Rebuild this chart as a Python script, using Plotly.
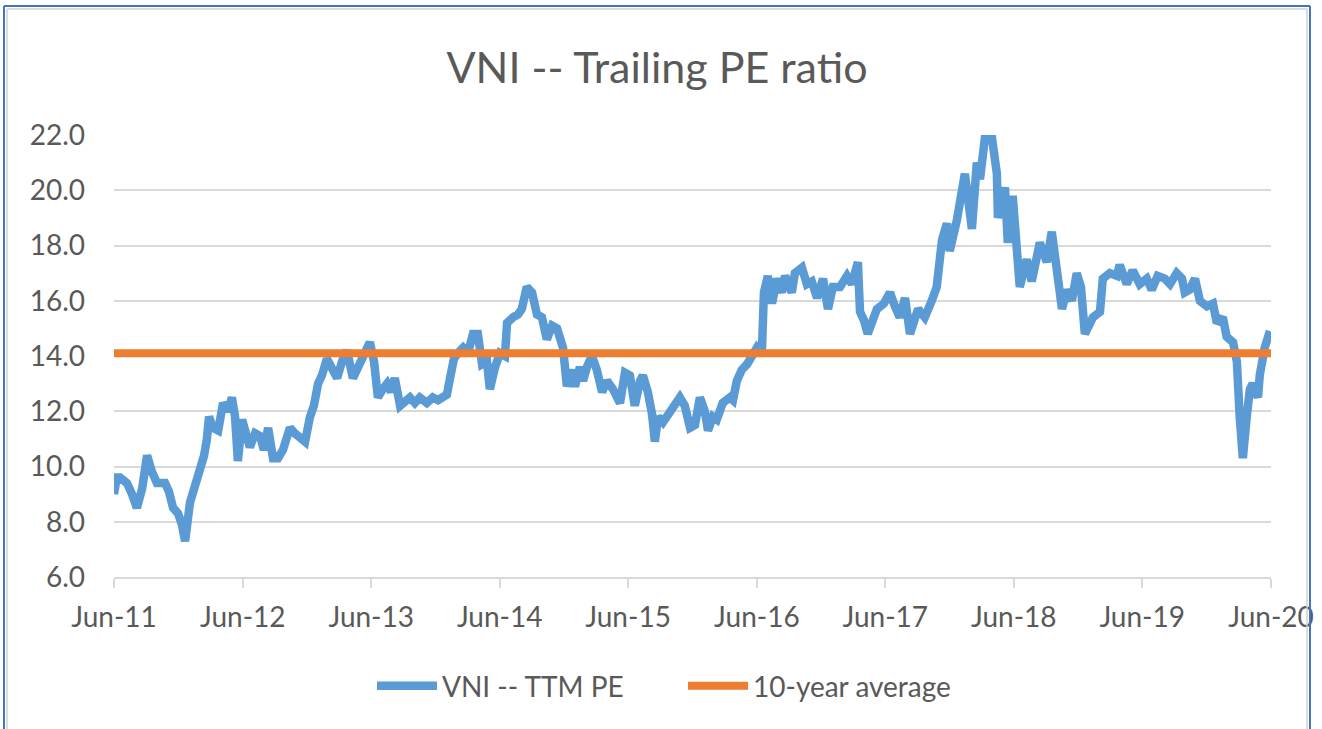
import plotly.graph_objects as go

# ---- data ----
dates = [
    "2011-06-01", "2011-06-09", "2011-06-18", "2011-07-08", "2011-07-22", "2011-08-05", "2011-08-20",
    "2011-09-03", "2011-09-17", "2011-10-01", "2011-10-24", "2011-11-04", "2011-11-16", "2011-11-30",
    "2011-12-11", "2011-12-20", "2012-01-03", "2012-01-17", "2012-01-31", "2012-02-12", "2012-02-20",
    "2012-02-26", "2012-03-08", "2012-03-23", "2012-04-06", "2012-04-20", "2012-05-01", "2012-05-10",
    "2012-05-18", "2012-05-30", "2012-06-10", "2012-06-21", "2012-07-06", "2012-07-20", "2012-07-31",
    "2012-08-12", "2012-08-26", "2012-09-09", "2012-09-23", "2012-10-13", "2012-10-27", "2012-11-10",
    "2012-11-25", "2012-12-09", "2012-12-20", "2013-01-01", "2013-01-12", "2013-01-26", "2013-02-09",
    "2013-02-24", "2013-03-10", "2013-03-24", "2013-04-10", "2013-04-24", "2013-05-08", "2013-05-28",
    "2013-06-09", "2013-06-20", "2013-07-04", "2013-07-16", "2013-07-27", "2013-08-07", "2013-08-22",
    "2013-09-05", "2013-09-19", "2013-10-03", "2013-10-17", "2013-11-06", "2013-11-23", "2013-12-08",
    "2013-12-22", "2014-01-02", "2014-01-11", "2014-01-22", "2014-02-02", "2014-02-17", "2014-03-03",
    "2014-03-17", "2014-03-31", "2014-04-12", "2014-04-26", "2014-05-04", "2014-05-19", "2014-06-02",
    "2014-06-16", "2014-06-22", "2014-07-09", "2014-07-23", "2014-08-03", "2014-08-17", "2014-09-01",
    "2014-09-15", "2014-09-29", "2014-10-13", "2014-10-28", "2014-11-11", "2014-11-28", "2014-12-09",
    "2014-12-23", "2015-01-01", "2015-01-15", "2015-01-24", "2015-02-04", "2015-02-18", "2015-03-04",
    "2015-03-19", "2015-04-02", "2015-04-19", "2015-05-09", "2015-05-23", "2015-06-06", "2015-06-20",
    "2015-07-05", "2015-07-13", "2015-07-27", "2015-08-08", "2015-08-16", "2015-08-25", "2015-09-08",
    "2015-09-28", "2015-10-12", "2015-10-26", "2015-11-09", "2015-11-24", "2015-12-08", "2015-12-22",
    "2016-01-05", "2016-01-14", "2016-01-28", "2016-02-08", "2016-02-25", "2016-03-16", "2016-03-25",
    "2016-04-05", "2016-04-19", "2016-05-04", "2016-05-18", "2016-06-01", "2016-06-15", "2016-06-21",
    "2016-07-02", "2016-07-14", "2016-07-28", "2016-08-11", "2016-08-20", "2016-09-08", "2016-09-17",
    "2016-10-07", "2016-10-21", "2016-11-04", "2016-11-19", "2016-12-06", "2016-12-20", "2017-01-03",
    "2017-01-23", "2017-02-12", "2017-02-26", "2017-03-15", "2017-03-21", "2017-04-01", "2017-04-12",
    "2017-05-08", "2017-05-28", "2017-06-14", "2017-06-28", "2017-07-12", "2017-07-27", "2017-08-10",
    "2017-09-02", "2017-09-21", "2017-10-11", "2017-10-25", "2017-11-09", "2017-11-23", "2017-12-01",
    "2017-12-21", "2018-01-13", "2018-02-02", "2018-02-16", "2018-02-25", "2018-03-11", "2018-03-31",
    "2018-04-14", "2018-04-17", "2018-05-07", "2018-05-15", "2018-05-29", "2018-06-18", "2018-07-08",
    "2018-07-22", "2018-08-14", "2018-09-03", "2018-09-17", "2018-10-01", "2018-10-16", "2018-10-30",
    "2018-11-13", "2018-11-27", "2018-12-09", "2018-12-20", "2019-01-12", "2019-02-01", "2019-02-09",
    "2019-03-01", "2019-03-21", "2019-03-29", "2019-04-18", "2019-05-05", "2019-05-25", "2019-06-14",
    "2019-06-28", "2019-07-15", "2019-08-04", "2019-08-19", "2019-09-07", "2019-09-22", "2019-09-30",
    "2019-10-14", "2019-10-29", "2019-11-12", "2019-12-02", "2019-12-19", "2019-12-30", "2020-01-16",
    "2020-01-27", "2020-02-14", "2020-02-25", "2020-03-04", "2020-03-13", "2020-03-24", "2020-04-02",
    "2020-04-10", "2020-04-25", "2020-04-30", "2020-05-14", "2020-05-29",
]

ttm_pe = [
    9.0, 9.6, 9.6, 9.4, 9.0, 8.5, 9.2,
    10.4, 9.8, 9.4, 9.4, 9.1, 8.5, 8.3,
    7.9, 7.3, 8.7, 9.3, 9.8, 10.4, 11.0,
    11.8, 11.4, 11.3, 12.3, 12.0, 12.5, 11.8,
    10.2, 11.7, 11.2, 10.7, 11.2, 11.1, 10.6,
    11.4, 10.3, 10.3, 10.6, 11.4, 11.2, 11.0,
    10.9, 11.8, 12.2, 13.0, 13.3, 13.9, 13.5,
    13.2, 13.8, 14.2, 13.2, 13.6, 13.9, 14.5,
    13.8, 12.5, 12.8, 13.0, 12.7, 13.2, 12.2,
    12.4, 12.5, 12.3, 12.5, 12.3, 12.5, 12.4,
    12.5, 12.6, 13.2, 13.9, 14.1, 14.3, 14.1,
    14.8, 14.8, 13.7, 13.8, 12.8, 13.6, 14.1,
    14.0, 15.2, 15.4, 15.5, 15.7, 16.5, 16.3,
    15.5, 15.4, 14.6, 15.1, 15.0, 14.3, 12.9,
    13.5, 12.9, 13.6, 13.1, 13.6, 14.0, 13.5,
    12.7, 13.1, 12.8, 12.3, 13.4, 13.3, 12.2,
    13.1, 13.3, 12.7, 11.9, 10.9, 11.8, 11.6,
    12.0, 12.2, 12.5, 12.2, 11.4, 11.5, 12.5,
    12.0, 11.3, 11.8, 11.7, 12.3, 12.5, 12.4,
    13.1, 13.5, 13.7, 14.0, 14.3, 14.1, 16.3,
    16.9, 15.9, 16.8, 16.3, 16.9, 16.3, 17.0,
    17.2, 16.6, 16.7, 16.1, 16.8, 15.7, 16.5,
    16.5, 16.9, 16.6, 17.4, 15.6, 15.3, 14.8,
    15.7, 15.9, 16.3, 15.8, 15.4, 16.1, 14.8,
    15.7, 15.4, 16.0, 16.5, 18.2, 18.8, 17.8,
    18.9, 20.6, 18.6, 21.0, 20.4, 21.9, 21.9,
    20.6, 19.0, 20.1, 18.1, 19.8, 16.5, 17.5,
    16.7, 18.1, 17.4, 18.5, 17.3, 15.7, 16.4,
    16.0, 17.0, 16.5, 14.8, 15.4, 15.6, 16.8,
    17.0, 16.9, 17.3, 16.6, 17.1, 16.6, 16.8,
    16.4, 16.9, 16.8, 16.6, 17.0, 16.8, 16.3,
    16.4, 16.8, 16.0, 15.8, 15.9, 15.2, 15.4,
    14.7, 14.5, 13.8, 11.8, 10.3, 11.8, 12.8,
    13.0, 12.5, 13.3, 14.3, 14.9,
]

avg_dates = ["2011-06-01", "2020-06-01"]
avg_values = [14.1, 14.1]

series_names = ["VNI -- TTM PE", "10-year average"]
y_ticks = [6, 8, 10, 12, 14, 16, 18, 20, 22]
x_ticks = ["2011-06-01", "2012-06-01", "2013-06-01", "2014-06-01", "2015-06-01",
           "2016-06-01", "2017-06-01", "2018-06-01", "2019-06-01", "2020-06-01"]
title_text = "VNI -- Trailing PE ratio"

FONT = "Lato"
TXT = "#595959"
GRID = "#D9D9D9"
BLUE = "#5B9BD5"
ORANGE = "#ED7D31"

fig = go.Figure()
fig.add_trace(go.Scatter(x=dates, y=ttm_pe, mode="lines", name=series_names[0],
                         line=dict(color=BLUE, width=8.5, shape="linear")))
fig.add_trace(go.Scatter(x=avg_dates, y=avg_values, mode="lines", name=series_names[1],
                         line=dict(color=ORANGE, width=8)))

W, H = 1322, 729
L, R, T, B = 114, 51, 135, 152
pw, ph = W - L - R, H - T - B

def px(xp):
    return (xp - L) / pw

def py(yp):
    return (H - B - yp) / ph

shapes = [
    # outer frame (blue) and inner grey edge
    dict(type="line", xref="paper", yref="paper", x0=px(4), x1=px(4), y0=py(6), y1=py(729), line=dict(color="#4472C4", width=2)),
    dict(type="line", xref="paper", yref="paper", x0=px(1310), x1=px(1310), y0=py(6), y1=py(729), line=dict(color="#4472C4", width=2)),
    dict(type="line", xref="paper", yref="paper", x0=px(4), x1=px(1310), y0=py(6), y1=py(6), line=dict(color="#4472C4", width=2)),
    dict(type="line", xref="paper", yref="paper", x0=px(7), x1=px(7), y0=py(9), y1=py(729), line=dict(color="#D0D0D0", width=1.5)),
    dict(type="line", xref="paper", yref="paper", x0=px(1307), x1=px(1307), y0=py(9), y1=py(729), line=dict(color="#D0D0D0", width=1.5)),
    dict(type="line", xref="paper", yref="paper", x0=px(7), x1=px(1307), y0=py(9), y1=py(9), line=dict(color="#D0D0D0", width=1.5)),
]

fig.update_layout(
    width=W, height=H,
    margin=dict(l=L, r=R, t=T, b=B, autoexpand=False),
    paper_bgcolor="white", plot_bgcolor="white",
    font=dict(family=FONT, color=TXT, size=28),
    title=dict(text=title_text, x=0.497, xanchor="center", y=1 - 68 / H, yanchor="middle",
               font=dict(family=FONT, size=43, color=TXT)),
    showlegend=True,
    legend=dict(orientation="h", x=px(372), xanchor="left", y=py(686), yanchor="middle",
                font=dict(family=FONT, size=28, color=TXT), itemwidth=60,
                entrywidth=236, entrywidthmode="pixels",
                bgcolor="rgba(0,0,0,0)"),
    shapes=shapes,
)

fig.update_xaxes(
    type="date", range=["2011-06-01", "2020-06-01"],
    tickmode="array", tickvals=x_ticks, tickformat="%b-%y",
    showgrid=False, showline=True, linecolor=GRID, linewidth=2,
    ticks="outside", ticklen=9, tickwidth=2, tickcolor=GRID,
    ticklabelstandoff=5,
    tickfont=dict(family=FONT, size=28, color=TXT),
    zeroline=False,
)
fig.update_yaxes(
    range=[6, 22], tickmode="array", tickvals=y_ticks, tickformat=".1f",
    showgrid=True, gridcolor=GRID, gridwidth=2,
    showline=False, zeroline=False, ticks="", ticklabelstandoff=28,
    tickfont=dict(family=FONT, size=28, color=TXT),
)

fig.write_html("out.html", config={"displayModeBar": False},
               post_script="document.body.style.margin='0';document.body.style.overflow='hidden';")
